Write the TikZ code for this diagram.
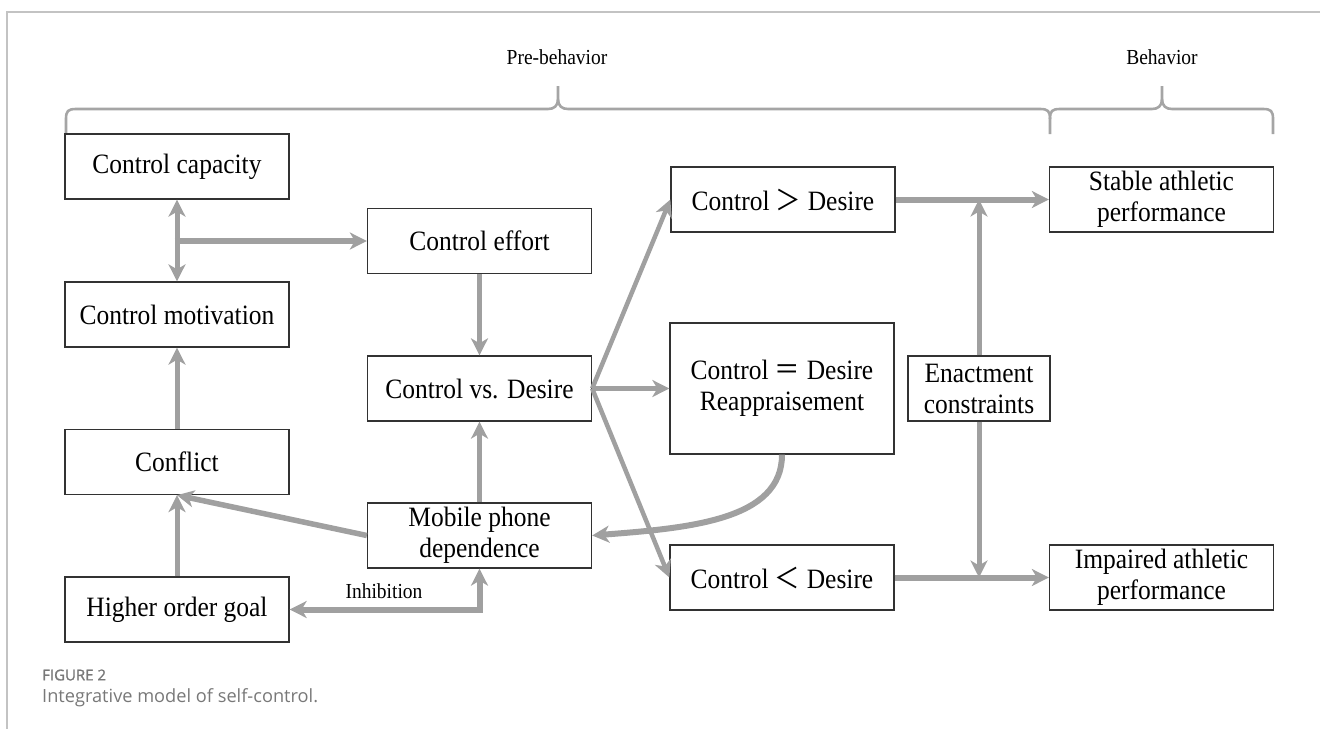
\documentclass[tikz,border=0pt]{standalone}
\usepackage{fontspec}
\setmainfont{Liberation Serif}[FakeStretch=0.91]
\newfontfamily\cjk{Noto Sans CJK SC}[FakeStretch=0.91]
\newfontfamily\capfont{Open Sans}
\newfontfamily\capfontb{Open Sans}[FakeBold=1.3]
\usetikzlibrary{arrows.meta}
\definecolor{arrgray}{RGB}{160,160,160}
\definecolor{bracegray}{RGB}{165,165,165}
\definecolor{framegray}{RGB}{195,195,195}
\definecolor{boxline}{RGB}{50,50,50}
\definecolor{capgray}{RGB}{120,120,120}
\begin{document}
\begin{tikzpicture}[x=1pt,y=-1pt,
  box/.style={draw=boxline, line width=1.3pt, fill=white, minimum width=224pt, minimum height=65pt,
    inner sep=0pt, align=center, font=\fontsize{28}{31}\selectfont},
  tip/.tip={Stealth[length=17pt,width=17pt,inset=5pt]},
  arr/.style={draw=arrgray, line width=5pt, arrows={-tip}},
  darr/.style={draw=arrgray, line width=5pt, arrows={tip-tip}},
  bracestyle/.style={draw=bracegray, line width=2.6pt},
  lbl/.style={font=\fontsize{21.4}{25}\selectfont, inner sep=0pt}
]
\useasboundingbox (0,0) rectangle (1320,729);
% frame
\draw[framegray, line width=1.6pt] (1320,12) -- (7,12) -- (7,729);

% header labels
\node[lbl] (pre) at (557,57) {Pre-behavior};
\node[lbl] (beh) at (1162,57) {Behavior};

% braces
\draw[bracestyle] (66,134) -- (66,119) .. controls (66,111) and (68,109) .. (76,109) -- (548,109)
  .. controls (554,109) and (558,106) .. (558,99) -- (558,86);
\draw[bracestyle] (558,99) .. controls (558,106) and (562,109) .. (568,109) -- (1040,109)
  .. controls (1048,109) and (1050,111) .. (1050,119) -- (1050,134);
\draw[bracestyle] (1050,119) .. controls (1050,111) and (1052,109) .. (1060,109) -- (1152,109)
  .. controls (1158,109) and (1162,106) .. (1162,99) -- (1162,86);
\draw[bracestyle] (1162,99) .. controls (1162,106) and (1166,109) .. (1172,109) -- (1263,109)
  .. controls (1271,109) and (1273,111) .. (1273,119) -- (1273,134);

% nodes
\node[box] (cap) at (177,166.5) {Control capacity};
\node[box] (mot) at (177,314.5) {Control motivation};
\node[box] (con) at (177,462) {Conflict};
\node[box] (hog) at (177,609.5) {Higher order goal};
\node[box] (eff) at (479.5,241) {Control effort};
\node[box] (vs) at (479.5,388.5) {Control vs. Desire};
\node[box] (mob) at (479.5,535.5) {Mobile phone\\dependence};
\node[box] (gt) at (783,199.5) {Control {\cjk ＞} Desire};
\node[box, minimum height=131pt] (eq) at (782,388.5) {Control {\cjk ＝} Desire\\Reappraisement};
\node[box, minimum width=142pt] (ena) at (979,388.5) {Enactment\\constraints};
\node[box] (lt) at (782,577.5) {Control {\cjk ＜} Desire};
\node[box] (sta) at (1161.5,199.5) {Stable athletic\\performance};
\node[box] (imp) at (1161.5,577.5) {Impaired athletic\\performance};

% connectors
\draw[darr] (cap.south) -- (mot.north);
\coordinate (br) at (174.5,241);
\draw[arr, line width=6pt] (br) -- (eff.west);
\draw[arr] (con.north) -- (mot.south);
\draw[arr] (hog.north) -- (con.south);
\draw[arr, line width=5.5pt] (mob.west) -- (con.south);
\draw[darr, line width=6pt] (hog.east) -- (hog.east -| mob.south) -- (mob.south);
\node[lbl] (inh) at (384,591) {Inhibition};
\draw[arr] (eff.south) -- (vs.north);
\draw[arr] (mob.north) -- (vs.south);
\draw[arr, line width=4.5pt] (vs.east) -- (gt.west);
\draw[arr, line width=5.5pt] (vs.east) -- (eq.west);
\draw[arr, line width=4.5pt] (vs.east) -- (lt.west);
\draw[arr, line width=6pt] (eq.south) .. controls (782,520) and (690,528) .. (mob.east);
\draw[arr, line width=6pt] (gt.east) -- (sta.west);
\draw[arr, line width=6pt] (lt.east) -- (imp.west);
\draw[arr] (ena.north) -- (ena.north |- gt.east);
\draw[arr] (ena.south) -- (ena.south |- lt.east);

% caption
\node[anchor=west, inner sep=0pt, text=capgray, font=\capfontb\fontsize{15}{17}\selectfont] (fig) at (42,675) {FIGURE 2};
\node[anchor=west, inner sep=0pt, text=capgray, font=\capfont\fontsize{18.2}{21}\selectfont] (capt) at (42,698) {Integrative model of self-control.};
\end{tikzpicture}
\end{document}
